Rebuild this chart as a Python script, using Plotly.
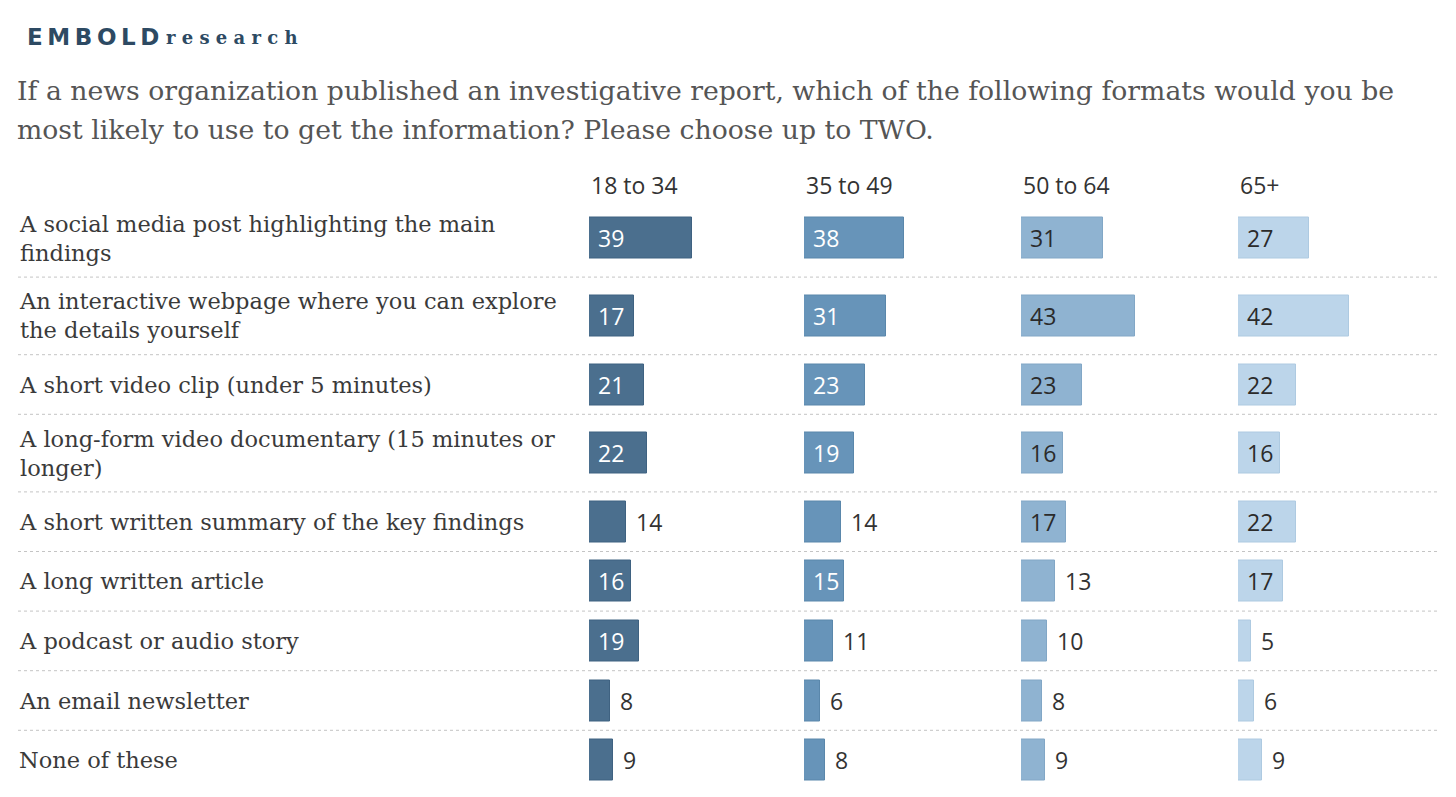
import plotly.graph_objects as go
import numpy as np

# data (percent choosing each format, by age group)
labels = [
    "A social media post highlighting the main<br>findings",
    "An interactive webpage where you can explore<br>the details yourself",
    "A short video clip (under 5 minutes)",
    "A long-form video documentary (15 minutes or<br>longer)",
    "A short written summary of the key findings",
    "A long written article",
    "A podcast or audio story",
    "An email newsletter",
    "None of these",
]
age_groups = ["18 to 34", "35 to 49", "50 to 64", "65+"]
vals_18_34 = [39, 17, 21, 22, 14, 16, 19, 8, 9]
vals_35_49 = [38, 31, 23, 19, 14, 15, 11, 6, 8]
vals_50_64 = [31, 43, 23, 16, 17, 13, 10, 8, 9]
vals_65_up = [27, 42, 22, 16, 22, 17, 5, 6, 9]

title_lines = [
    "If a news organization published an investigative report, which of the following formats would you be",
    "most likely to use to get the information? Please choose up to TWO.",
]

# page puts the figure 8px in from the top-left corner
OFF = 8
W, H = 1456 - OFF, 797 - OFF
SERIF = "DejaVu Serif"
SANS = "Open Sans"


def px_x(x):
    return (x - OFF) / W


def px_y(y):
    return 1 - (y - OFF) / H


colors = ["#4b6f8e", "#6794b9", "#8fb3d1", "#bcd5ea"]
edges_col = ["#3f6281", "#5a87ab", "#82a7c6", "#aecae1"]
inside_txt = ["white", "white", "#2b2b2b", "#2b2b2b"]

#
#   ROW GEOMETRY: two-line labels get taller rows
#
n_lines = [lab.count("<br>") + 1 for lab in labels]
heights = [41.6 + 18 * n for n in n_lines]
edges = np.concatenate([[0], np.cumsum(heights)])
centers = (edges[:-1] + edges[1:]) / 2
total = float(edges[-1])
top_px = 199.5

col_left = [589, 804, 1021, 1238]
col_w = 210
xmax = 79.5

fig = go.Figure()
annotations = []
layout_axes = {}

all_vals = [vals_18_34, vals_35_49, vals_50_64, vals_65_up]
for i, (age, vals) in enumerate(zip(age_groups, all_vals)):
    ax = "" if i == 0 else str(i + 1)
    fig.add_trace(
        go.Bar(
            x=vals,
            y=centers,
            orientation="h",
            width=41,
            marker=dict(color=colors[i], line=dict(color=edges_col[i], width=1)),
            xaxis="x" + ax,
            yaxis="y",
            hoverinfo="skip",
        )
    )
    layout_axes["xaxis" + ax] = dict(
        domain=[px_x(col_left[i]), px_x(col_left[i] + col_w)],
        range=[0, xmax], visible=False, anchor="y", fixedrange=True,
    )
    # column header
    annotations.append(dict(
        text=age, xref="x" + ax + " domain", x=0, xanchor="left",
        yref="paper", y=px_y(184.5), yanchor="middle",
        showarrow=False, font=dict(family=SANS, size=23, color="#333333"),
    ))
    # value labels: inside the bar when it is wide enough
    for yc, v in zip(centers, vals):
        inside = v >= 15
        annotations.append(dict(
            text=str(v), xref="x" + ax, x=0 if inside else v,
            xshift=7 if inside else 8, xanchor="left",
            yref="y", y=yc, yanchor="middle", showarrow=False,
            font=dict(family=SANS, size=23,
                      color=inside_txt[i] if inside else "#333333"),
        ))

# row labels
for yc, lab in zip(centers, labels):
    annotations.append(dict(
        text=lab, xref="paper", x=px_x(17), xanchor="left",
        yref="y", y=yc, yanchor="middle", align="left", showarrow=False,
        font=dict(family=SERIF, size=22.5, color="#3a3a3a"),
    ))

# title and logo
for line, yy in zip(title_lines, [91, 129]):
    annotations.append(dict(
        text=line, xref="paper", x=px_x(15), xanchor="left",
        yref="paper", y=px_y(yy), yanchor="middle", align="left",
        showarrow=False, font=dict(family=SERIF, size=26.7, color="#555555"),
    ))
annotations.append(dict(
    text="E\u2009M\u2009B\u2009O\u2009L\u2009D", xref="paper", x=px_x(25), xanchor="left",
    yref="paper", y=px_y(37), yanchor="middle", showarrow=False,
    font=dict(family="DejaVu Sans", size=23, color="#2d4a63", weight="bold"),
))
annotations.append(dict(
    text="r e s e a r c h", xref="paper", x=px_x(164), xanchor="left",
    yref="paper", y=px_y(38), yanchor="middle", showarrow=False,
    font=dict(family=SERIF, size=18, color="#2d4a63", weight="bold"),
))

# dotted separators between rows
shapes = [
    dict(type="line", xref="paper", x0=px_x(18), x1=px_x(1438),
         yref="y", y0=e, y1=e, line=dict(color="#c4c4c4", width=1, dash="dot"))
    for e in edges[1:-1]
]

fig.update_layout(
    width=W, height=H,
    margin=dict(l=0, r=0, t=0, b=0),
    paper_bgcolor="white", plot_bgcolor="white",
    showlegend=False, bargap=0,
    yaxis=dict(domain=[px_y(top_px + total), px_y(top_px)],
               range=[total, 0], visible=False, fixedrange=True),
    annotations=annotations, shapes=shapes,
    **layout_axes,
)

fig.write_html("out.html")
